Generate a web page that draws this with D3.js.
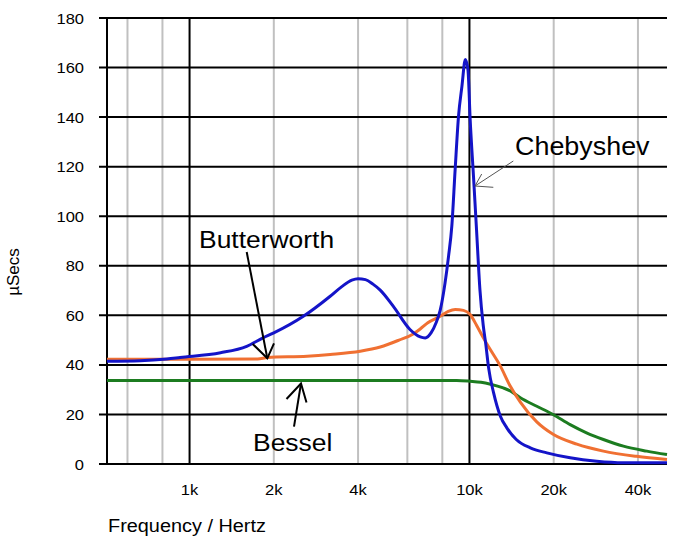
<!DOCTYPE html>
<html>
<head>
<meta charset="utf-8">
<script src="https://cdn.jsdelivr.net/npm/d3@7/dist/d3.min.js"></script>
<style>
  body { margin: 0; background: #fff; }
  text { font-family: "Liberation Sans", Arial, sans-serif; fill: #000; }
</style>
</head>
<body>
<div id="chart"></div>
<script>
// Group delay of three 10kHz low-pass filters, [frequency Hz, µs]
const chebyshev = [
  [507, 41.5], [667, 41.7], [830, 42.4], [925, 43.0], [1290, 44.9], [1600, 47.5],
  [1830, 50.9], [2000, 52.9], [2550, 59.6], [3180, 67.7], [3500, 71.6], [3800, 74.2],
  [4000, 74.8], [4250, 74.4], [4520, 72.6], [4800, 70.2], [5340, 63.7], [6130, 54.3],
  [6670, 51.3], [6950, 50.9], [7300, 53], [7600, 57], [7860, 62], [8180, 73], [8420, 83.8],
  [8650, 96], [8890, 118.8], [9140, 140.3], [9400, 152.4], [9670, 163.3], [9880, 159],
  [10060, 139], [10340, 116], [10600, 94.6], [10900, 70.4], [11200, 56], [11450, 48],
  [11700, 39], [12200, 28.7], [12900, 19.3], [13600, 14.6], [14700, 9.9], [16500, 6.5],
  [18900, 4.5], [22900, 2.5], [28500, 1.1], [35500, 0.5], [50800, 0.5]
];
const butterworth = [
  [507, 42.3], [1000, 42.3], [1750, 42.4], [1900, 43], [2630, 43.5], [3180, 44.2],
  [4070, 45.5], [4800, 47.2], [5600, 50], [6300, 52.5], [6670, 54.5], [7100, 57],
  [7860, 59.6], [8400, 61.6], [8900, 62.4], [9520, 62], [10060, 60.3], [10600, 56],
  [11200, 51], [11900, 46], [12900, 39.5], [13900, 32], [15200, 25], [17400, 17],
  [19900, 12], [24200, 8], [30100, 5.2], [39500, 3.1], [50800, 1.8]
];
const bessel = [
  [507, 33.7], [9000, 33.7], [10060, 33.4], [11000, 33], [11900, 32.2], [13200, 30.7],
  [14000, 29.5], [15200, 26.7], [17400, 23.3], [19900, 20], [22900, 15.9], [26200, 12.6],
  [30100, 9.9], [35500, 7.2], [43000, 5.2], [50800, 3.8]
];

const yTicks = [0, 20, 40, 60, 80, 100, 120, 140, 160, 180];
const xTicks = [1000, 2000, 4000, 10000, 20000, 40000];
const xTickLabels = ["1k", "2k", "4k", "10k", "20k", "40k"];
const minorGrid = [600, 800, 2000, 4000, 6000, 8000, 20000, 40000];
const majorGrid = [1000, 10000];

const width = 679;
const height = 550;
const margin = { top: 18, right: 12, bottom: 86, left: 107 };

const svg = d3.select("#chart")
  .append("svg")
  .attr("width", width)
  .attr("height", height);

const x = d3.scaleLog()
  .domain([507, 50800])
  .range([margin.left, width - margin.right]);

const y = d3.scaleLinear()
  .domain([0, 180])
  .range([height - margin.bottom, margin.top]);

// text helper, the original lettering is a bit wider than Arial
function label(str, px, py, size, sx, anchor) {
  return svg.append("text")
    .attr("transform", `translate(${px},${py}) scale(${sx},1)`)
    .attr("text-anchor", anchor || "start")
    .style("font-size", size + "px")
    .text(str);
}

// vertical grid
svg.append("g")
  .selectAll("line")
  .data(minorGrid)
  .enter().append("line")
  .attr("x1", d => x(d)).attr("x2", d => x(d))
  .attr("y1", y(180)).attr("y2", y(0))
  .attr("stroke", "#c0c0c0")
  .attr("stroke-width", 2);

svg.append("g")
  .selectAll("line")
  .data(majorGrid)
  .enter().append("line")
  .attr("x1", d => x(d)).attr("x2", d => x(d))
  .attr("y1", y(180)).attr("y2", y(0))
  .attr("stroke", "#000")
  .attr("stroke-width", 2);

// left axis line
svg.append("line")
  .attr("x1", x(507)).attr("x2", x(507))
  .attr("y1", y(180) - 1).attr("y2", y(0) + 1)
  .attr("stroke", "#000")
  .attr("stroke-width", 2);

// horizontal grid, with a little tick to the left
svg.append("g")
  .selectAll("line")
  .data(yTicks)
  .enter().append("line")
  .attr("x1", x(507) - 8).attr("x2", x(50800))
  .attr("y1", d => y(d)).attr("y2", d => y(d))
  .attr("stroke", "#000")
  .attr("stroke-width", 2);

// tick labels
yTicks.forEach(t => label(String(t), 84, y(t) + 5.5, 15, 1.1, "end"));
xTicks.forEach((t, i) => label(xTickLabels[i], x(t), 495, 15, 1.1, "middle"));

label("Frequency / Hertz", 108, 532, 18.5, 1.075, "start");

svg.append("text")
  .attr("transform", "translate(19,272) rotate(-90)")
  .attr("text-anchor", "middle")
  .style("font-size", "17px")
  .text("µSecs");

// curves
const line = d3.line()
  .x(d => x(d[0]))
  .y(d => y(d[1]))
  .curve(d3.curveMonotoneX);

const series = [
  { data: bessel, color: "#1c7c20" },
  { data: butterworth, color: "#f07032" },
  { data: chebyshev, color: "#1414c8" }
];

svg.append("g")
  .selectAll("path")
  .data(series)
  .enter().append("path")
  .attr("d", d => line(d.data))
  .attr("fill", "none")
  .attr("stroke", d => d.color)
  .attr("stroke-width", 3)
  .attr("stroke-linejoin", "round");

// annotations
function arrow(x1, y1, x2, y2, a1, a2, color, w) {
  const g = svg.append("g")
    .attr("stroke", color)
    .attr("stroke-width", w)
    .attr("fill", "none");
  g.append("line").attr("x1", x1).attr("y1", y1).attr("x2", x2).attr("y2", y2);
  g.append("polyline").attr("points", `${a1[0]},${a1[1]} ${x2},${y2} ${a2[0]},${a2[1]}`);
}

label("Butterworth", 199, 248, 23.5, 1.125, "start");
arrow(246.7, 252, 267.3, 358.3, [252.7, 344], [274, 343.3], "#000", 2);

label("Bessel", 253, 451, 24.5, 1.08, "start");
arrow(294, 426.7, 301, 383.5, [286.5, 399], [306.5, 402.5], "#000", 2);

label("Chebyshev", 515, 155, 25.5, 1.055, "start");
arrow(513.3, 161, 475, 186, [481.7, 174], [493.3, 187.3], "#555", 1);
</script>
</body>
</html>
